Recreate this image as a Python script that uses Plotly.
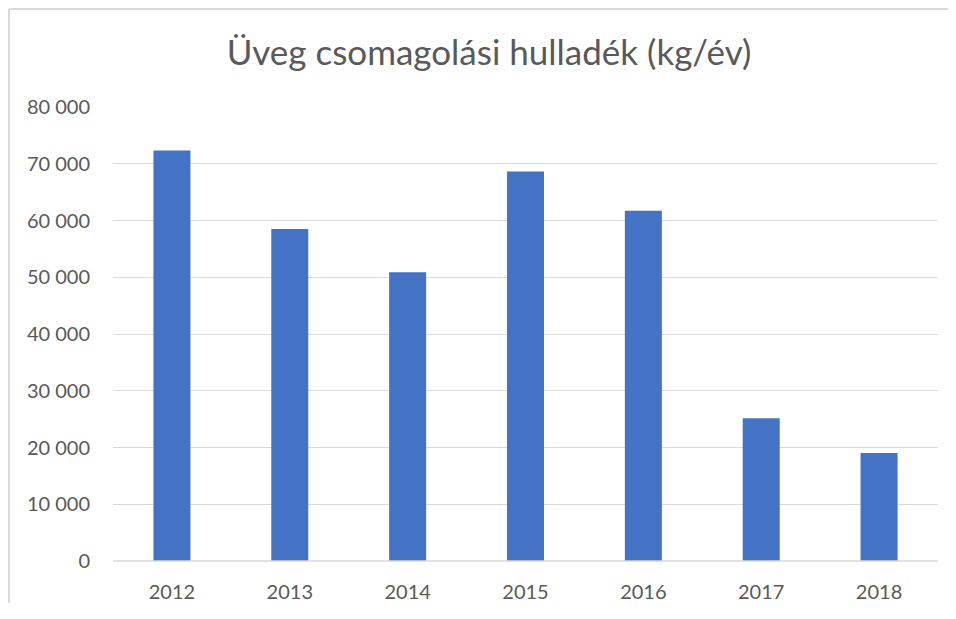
import plotly.graph_objects as go

years = ["2012", "2013", "2014", "2015", "2016", "2017", "2018"]
values = [72350, 58500, 50900, 68650, 61700, 25150, 19050]
y_ticks = [0, 10000, 20000, 30000, 40000, 50000, 60000, 70000, 80000]

# page body has an 8px offset
W, H = 940, 595
L, R, T, B = 105, 10, 99, 42
pw, ph = W - L - R, H - T - B

fig = go.Figure(go.Bar(
    x=years, y=values,
    marker=dict(color="#4472C4", line=dict(width=0)),
))

font_family = "Lato, 'Open Sans', sans-serif"
border = dict(color="#D9D9D9", width=2)

fig.update_layout(
    width=W, height=H,
    margin=dict(l=L, r=R, t=T, b=B, pad=0),
    paper_bgcolor="white", plot_bgcolor="white",
    bargap=0.686,
    separators=", ",
    showlegend=False,
    title=dict(
        text="Üveg csomagolási hulladék (kg/év)",
        font=dict(family=font_family, size=35, color="#595959"),
        x=(489 - 8) / W, xanchor="center",
        y=1 - 45 / H, yanchor="middle",
    ),
    font=dict(family=font_family, size=20, color="#595959"),
    xaxis=dict(
        showgrid=False, zeroline=False, showline=False,
        ticks="", tickfont=dict(size=20, color="#595959"),
        ticklabelstandoff=17, automargin=False,
    ),
    yaxis=dict(
        range=[0, 80000], tickvals=y_ticks, tickformat=",d",
        showgrid=True, gridcolor="#D9D9D9", gridwidth=1.3,
        zeroline=False, showline=False, ticks="",
        tickfont=dict(size=20, color="#595959"),
        ticklabelstandoff=22, automargin=False,
    ),
    shapes=[
        dict(type="line", xref="paper", yref="paper",
             x0=0, x1=1, y0=0, y1=0,
             line=dict(color="#D9D9D9", width=1.3), layer="above"),
        # outer chart-area border: top and left edges
        dict(type="line", xref="paper", yref="paper",
             x0=(1 - L) / pw, x1=(W - L) / pw,
             y0=(H - B - 1) / ph, y1=(H - B - 1) / ph,
             line=border, layer="below"),
        dict(type="line", xref="paper", yref="paper",
             x0=(1 - L) / pw, x1=(1 - L) / pw,
             y0=-B / ph, y1=(H - B - 1) / ph,
             line=border, layer="below"),
    ],
)

fig.write_html("out.html")
